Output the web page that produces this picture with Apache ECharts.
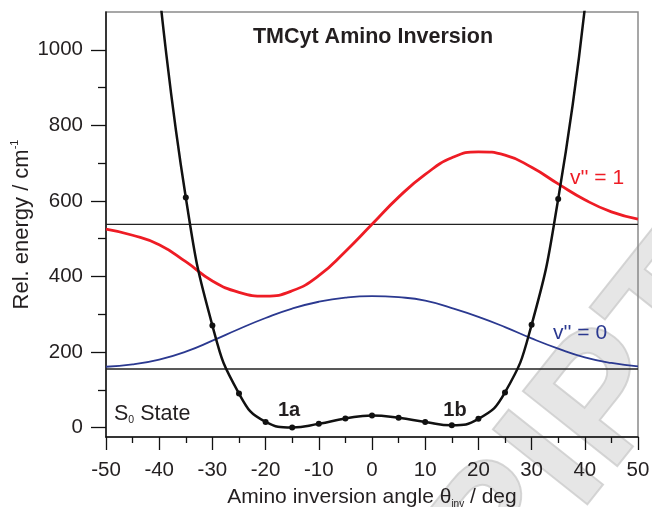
<!DOCTYPE html>
<html><head><meta charset="utf-8">
<script src="https://cdn.jsdelivr.net/npm/echarts@6/dist/echarts.min.js"></script>
<style>html,body{margin:0;padding:0;background:#fff}#c{width:652px;height:507px}</style>
</head><body><div id="c"></div>
<script>
// ---- data ----
const levelAngles = [-50,-45,-40,-35,-30,-25,-20,-15,-10,-5,0,5,10,15,20,25,30,35,40,45,50];
const v1Energy   = [525,509,484,439,388,358,348,362,402,466,538,610,670,714,730,721,689,645,603,571,552];
const v0Energy   = [161,167,180,201,230,261,290,315,333,344,348,345,336,316,293,266,236,209,186,171,162];
const pesAngles  = [-35,-30,-25,-20,-15,-10,-5,0,5,10,15,20,25,30,35];
const pesEnergy  = [609,270,90,15,0,10,24,32,26,15,6,23,93,272,605];
const pesExtLeft  = [-40,1160];
const pesExtRight = [40,1110];
const hLineAngles = [-50,50];
const hLineEnergies = [538,155];
const yMajorTicks = [0,200,400,600,800,1000];
const yMinorTicks = [100,300,500,700,900];
const xMin = -50, xMax = 50, yMin = -25, yMax = 1100;

const FONT = 'Liberation Sans, Arial, sans-serif';
const TXT = '#231f20';

const chart = echarts.init(document.getElementById('c'), null, {renderer:'canvas'});

const pesData = [{value: pesExtLeft, symbol:'none'}]
  .concat(pesAngles.map((a,i)=>[a,pesEnergy[i]]))
  .concat([{value: pesExtRight, symbol:'none'}]);

const hSeries = hLineEnergies.map(e => ({
  type:'line', data: hLineAngles.map(a=>[a,e]), symbol:'none', silent:true,
  lineStyle:{color:'#222', width:1.3}, z:2
}));

chart.setOption({
  animation:false,
  grid:{left:106, right:14, top:12, bottom:70, outerBoundsMode:'none', containLabel:false,
        show:true, borderColor:'#8a8a8a', borderWidth:1.5, backgroundColor:'transparent'},
  xAxis:{
    type:'value', min:xMin, max:xMax, interval:10,
    axisLine:{show:true, onZero:false, lineStyle:{color:'#111', width:1.5}},
    axisTick:{show:true, inside:false, length:13, lineStyle:{color:'#111', width:1.3}},
    minorTick:{show:true, splitNumber:2, length:6, lineStyle:{color:'#111', width:1.3}},
    splitLine:{show:false}, minorSplitLine:{show:false},
    axisLabel:{fontFamily:FONT, fontSize:20.5, color:TXT, margin:23, formatter:v=>String(v)},
    name:'{a|Amino inversion angle θ}{sub|inv}{a| / deg}',
    nameLocation:'middle', nameGap:48,
    nameTextStyle:{rich:{
      a:{fontFamily:FONT, fontSize:21, color:TXT, lineHeight:24},
      sub:{fontFamily:FONT, fontSize:10, color:TXT, verticalAlign:'bottom', lineHeight:16}
    }}
  },
  yAxis:[{
    type:'value', min:yMin, max:yMax,
    axisLine:{show:true, onZero:false, lineStyle:{color:'#111', width:1.5}},
    axisTick:{show:true, inside:false, length:15, customValues:yMajorTicks, lineStyle:{color:'#111', width:1.3}},
    axisLabel:{customValues:yMajorTicks, fontFamily:FONT, fontSize:20.5, color:TXT, margin:23, formatter:v=>String(v)},
    splitLine:{show:false},
    name:'{a|Rel. energy / cm}{sup|-1}',
    nameLocation:'middle', nameGap:71, nameRotate:90, nameMoveOverlap:false,
    nameTextStyle:{rich:{
      a:{fontFamily:FONT, fontSize:22, color:TXT, lineHeight:26},
      sup:{fontFamily:FONT, fontSize:11, color:TXT, verticalAlign:'top', lineHeight:15}
    }}
  },{
    type:'value', min:yMin, max:yMax, position:'left',
    axisLine:{show:false, onZero:false},
    axisTick:{show:true, inside:false, length:8, customValues:yMinorTicks, lineStyle:{color:'#111', width:1.3}},
    axisLabel:{show:false}, splitLine:{show:false}
  }],
  graphic:[
    {type:'text', z:-10, x:395, y:528, rotation:0.9,
     style:{text:'RIPT', font:'bold 175px '+FONT, fill:'rgba(205,205,205,0.5)', stroke:'rgba(165,165,165,0.45)', lineWidth:2}},
    {type:'text', x:373, y:37, style:{text:'TMCyt Amino Inversion', font:'bold 21.5px '+FONT, fill:TXT, align:'center', verticalAlign:'middle'}},
    {type:'text', x:570, y:178, style:{text:"v'' = 1", font:'21px '+FONT, fill:'#ee1c25', verticalAlign:'middle'}},
    {type:'text', x:553, y:333, style:{text:"v'' = 0", font:'21px '+FONT, fill:'#2b3990', verticalAlign:'middle'}},
    {type:'text', x:289, y:410, style:{text:'1a', font:'bold 20px '+FONT, fill:TXT, align:'center', verticalAlign:'middle'}},
    {type:'text', x:455, y:410, style:{text:'1b', font:'bold 20px '+FONT, fill:TXT, align:'center', verticalAlign:'middle'}},
    {type:'text', x:114, y:414, style:{
      text:'{a|S}{sub|0}{a| State}', verticalAlign:'middle',
      rich:{a:{fontFamily:FONT, fontSize:21.5, fill:TXT, lineHeight:24}, sub:{fontFamily:FONT, fontSize:10.5, fill:TXT, verticalAlign:'bottom', lineHeight:16}}
    }}
  ],
  series: hSeries.concat([
    {type:'line', name:'v0', data: levelAngles.map((a,i)=>[a,v0Energy[i]]), smooth:true, symbol:'none',
     lineStyle:{color:'#2b3990', width:1.8}, z:3},
    {type:'line', name:'v1', data: levelAngles.map((a,i)=>[a,v1Energy[i]]), smooth:true, symbol:'none',
     lineStyle:{color:'#ee1c25', width:2.8}, z:4},
    {type:'line', name:'pes', data: pesData, smooth:true, symbol:'circle', symbolSize:6, showAllSymbol:true,
     itemStyle:{color:'#111'}, lineStyle:{color:'#111', width:2.5}, z:5, clip:true}
  ])
});
</script></body></html>
